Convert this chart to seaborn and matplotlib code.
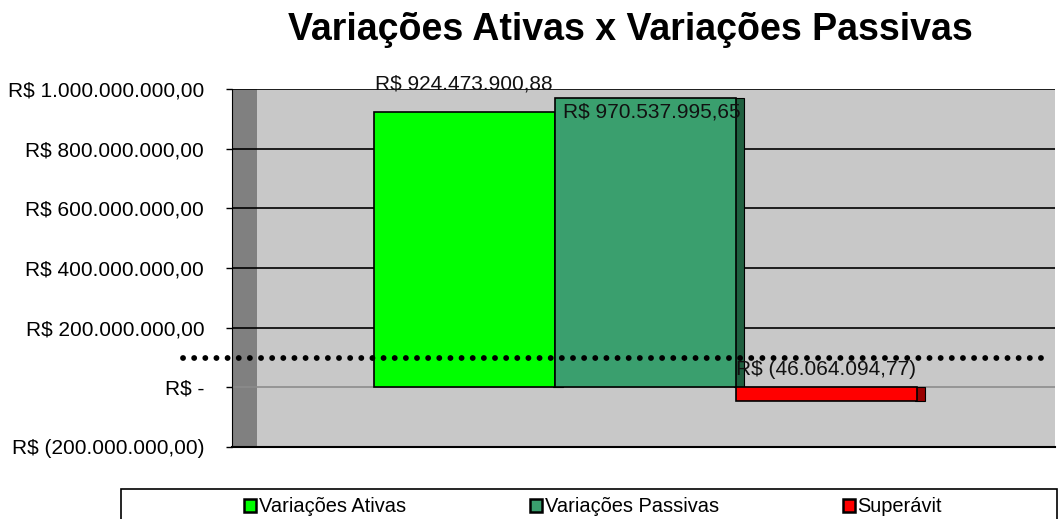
import numpy as np
import pandas as pd
import matplotlib
matplotlib.use("Agg")
import matplotlib.pyplot as plt
from matplotlib.patches import Patch, Rectangle
from matplotlib.ticker import FuncFormatter
import seaborn as sns

# ---------------------------------------------------------------------------
# Data
# ---------------------------------------------------------------------------
series = ["Variações Ativas", "Variações Passivas", "Superávit"]
values = [924_473_900.88, 970_537_995.65, -46_064_094.77]
bar_colors = ["#00FF00", "#3A9F6E", "#FF0000"]
side_colors = ["#009900", "#1F5F3F", "#990000"]
y_ticks = [-200_000_000, 0, 200_000_000, 400_000_000, 600_000_000, 800_000_000, 1_000_000_000]
reference_level = 100_000_000
title = "Variações Ativas x Variações Passivas"

df = pd.DataFrame({"grupo": ["Resultado"] * len(series), "serie": series, "valor": values})


def brl(v, pos=None):
    """Format as Brazilian Real, negatives in parentheses."""
    if v == 0:
        return "R$ -"
    s = f"{abs(v):,.2f}".replace(",", "X").replace(".", ",").replace("X", ".")
    return f"R$ ({s})" if v < 0 else f"R$ {s}"


sns.set_style("white", {"text.color": "black", "axes.labelcolor": "black",
                        "xtick.color": "black", "ytick.color": "black"})
plt.rcParams["font.family"] = ["Liberation Sans", "DejaVu Sans"]

W, H = 1058, 519
fig, ax = plt.subplots(figsize=(W / 100, H / 100), dpi=100)
ax.set_position([232 / W, 1 - 447 / H, 823 / W, (447 - 89) / H])
ax.set_facecolor("#C8C8C8")

sns.barplot(
    data=df, x="grupo", y="valor", hue="serie", hue_order=series,
    palette=bar_colors, saturation=1, width=0.66, edgecolor="black",
    linewidth=1.2, legend=False, ax=ax, zorder=2,
)
bars = list(ax.patches[:len(series)])

ax.set_ylim(y_ticks[0], y_ticks[-1])
ax.set_xlim(-0.502, 0.498)
ax.set_yticks(y_ticks)
ax.yaxis.set_major_formatter(FuncFormatter(brl))
ax.set_xticks([])
ax.set_xlabel("")
ax.set_ylabel("")
ax.tick_params(axis="y", labelsize=15, length=4, width=1, pad=16, left=True,
               color="black", labelcolor="black")

# gridlines: black, the zero line grey
ax.set_axisbelow(True)
ax.grid(axis="y", color="black", linewidth=1.2)
for gl, t in zip(ax.get_ygridlines(), y_ticks):
    if t == 0:
        gl.set_color("#8C8C8C")

for side in ["top", "right"]:
    ax.spines[side].set_visible(False)
ax.spines["left"].set_color("black")
ax.spines["bottom"].set_color("black")
ax.spines["bottom"].set_linewidth(1.5)

# dark left wall of the old 3D chart
ax.add_patch(Rectangle((0, 0), 25 / 823, 1, transform=ax.transAxes,
                       facecolor="#808080", edgecolor="none", zorder=0.2))

# 3D side faces behind each bar
depth = 10 / 823
for b, c in zip(bars, side_colors):
    ax.add_patch(Rectangle((b.get_x() + b.get_width() - 0.002, b.get_y()), depth, b.get_height(),
                           facecolor=c, edgecolor="black", linewidth=0.8, zorder=1.5))

# dotted reference line
ax.axhline(reference_level, xmin=-49 / 823, xmax=813 / 823, color="black",
           linestyle=(0, (0.01, 1.9)), linewidth=4.2, dash_capstyle="round",
           clip_on=False, zorder=5)

# value labels (positions mimic the original Excel chart)
offsets = [(0, 20, "center"), (6, -10, "left"), (0, 13, "left")]
for b, v, (dx, dy, ha) in zip(bars, values, offsets):
    if ha == "center":
        x = b.get_x() + b.get_width() / 2
    else:
        x = b.get_x()
    y = v if v > 0 else 0
    ax.annotate(brl(v), (x, y), xytext=(dx, dy), textcoords="offset points",
                ha=ha, va="center", fontsize=15, color="#111111",
                annotation_clip=False, zorder=6)

fig.text(630 / W, 1 - 40 / H, title, ha="center", va="baseline",
         fontsize=27, fontweight="bold", color="black")

# legend
handles = [Patch(facecolor=c, edgecolor="black", linewidth=1.8) for c in bar_colors]
fig.legend(handles, series, loc="center", bbox_to_anchor=(593 / W, 1 - 507 / H),
           ncol=3, frameon=False, fontsize=14.4, handlelength=0.62, handleheight=0.62,
           handletextpad=0.12, columnspacing=6.2, labelcolor="black")
fig.add_artist(Rectangle((121 / W, -0.02), (1057 - 121) / W, (519 - 489) / H + 0.02,
                         transform=fig.transFigure, fill=False, edgecolor="black",
                         linewidth=1.2))

fig.savefig("out.png", dpi=100)
